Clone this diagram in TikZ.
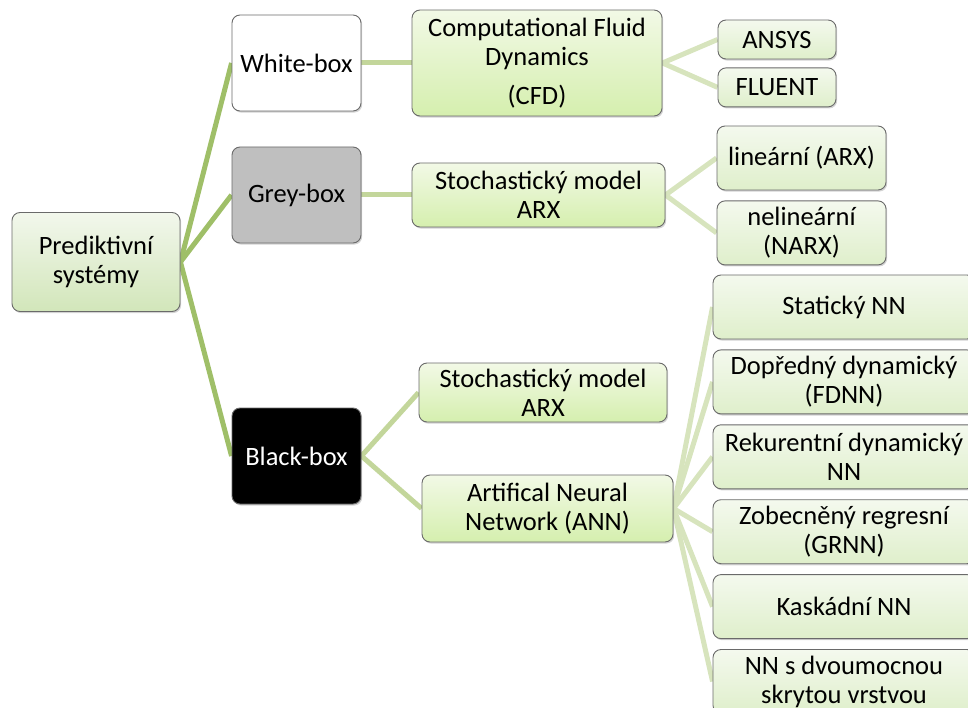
\documentclass[tikz,border=0pt]{standalone}
\usepackage{fontspec}
\setmainfont{Carlito}
\usepackage{tikz}
\usetikzlibrary{positioning,shadows,backgrounds}

\definecolor{linkA}{HTML}{9FBF68}
\definecolor{linkB}{HTML}{C3D69B}
\definecolor{linkC}{HTML}{D7E4BD}
\definecolor{boxline}{HTML}{6A6A6A}
\definecolor{rootTop}{HTML}{F2F7EC}
\definecolor{rootBot}{HTML}{D2E6BA}
\definecolor{midTop}{HTML}{F2F9E6}
\definecolor{midBot}{HTML}{D5EFAE}
\definecolor{leafTop}{HTML}{F4F9EE}
\definecolor{leafBot}{HTML}{DFEFCB}

\begin{document}
\begin{tikzpicture}[x=1pt, y=-1pt, node distance=10pt,
    every node/.style={font=\fontsize{26.5}{29}\selectfont},
    box/.style={draw=boxline, line width=0.9pt, rounded corners=8pt, align=center, inner sep=2pt,
        drop shadow={shadow xshift=1.2pt, shadow yshift=-1.6pt, opacity=0.35}},
    rootbox/.style={box, top color=rootTop, bottom color=rootBot},
    midbox/.style={box, top color=midTop, bottom color=midBot},
    leafbox/.style={box, top color=leafTop, bottom color=leafBot},
    kindbox/.style={box, minimum width=129pt, minimum height=96pt},
    nnbox/.style={leafbox, minimum width=262pt, minimum height=64pt},
    link/.style={line width=5pt},
]
\useasboundingbox (0,0) rectangle (968,708);

\node[rootbox, minimum width=168pt, minimum height=99pt] (root) at (96,262) {Prediktivní\\ systémy};

\node[kindbox, fill=white] (white) at (296.5,63) {White-box};
\node[kindbox, fill=black!25] (grey) at (296.5,195) {Grey-box};
\node[kindbox, fill=black, text=white] (black) at (296.5,456) {Black-box};

\node[midbox, minimum width=250pt, minimum height=106pt] (cfd) at (537,63) {Computational Fluid\\ Dynamics\\[10pt] (CFD)};
\node[leafbox, minimum width=118pt, minimum height=39pt] (ansys) at (777,39.5) {ANSYS};
\node[leafbox, minimum width=118pt, minimum height=39pt, below=8pt of ansys] (fluent) {FLUENT};

\node[midbox, minimum width=253pt, minimum height=64pt] (arxg) at (538.5,195) {Stochastický model\\ ARX};
\node[leafbox, minimum width=169pt, minimum height=64pt] (lin) at (801.5,158) {lineární (ARX)};
\node[leafbox, minimum width=169pt, minimum height=64pt, below=of lin] (nlin) {nelineární\\ (NARX)};

\node[midbox, minimum width=248pt, minimum height=59pt] (arxb) at (543,392.5) {Stochastický model\\ ARX};
\node[midbox, minimum width=251pt, minimum height=67pt] (ann) at (547.5,508.5) {Artifical Neural\\ Network (ANN)};

% neural network variants
\node[nnbox] (stat) at (844,307) {Statický NN};
\node[nnbox, below=of stat] (fdnn) {Dopředný dynamický\\ (FDNN)};
\node[nnbox, below=of fdnn] (rnn) {Rekurentní dynamický\\ NN};
\node[nnbox, below=of rnn] (grnn) {Zobecněný regresní\\ (GRNN)};
\node[nnbox, below=of grnn] (casc) {Kaskádní NN};
\node[nnbox, below=of casc] (hidden) {NN s dvoumocnou\\ skrytou vrstvou};

\begin{scope}[on background layer]
\draw[link, linkA] (root.east) -- (white.west);
\draw[link, linkA] (root.east) -- (grey.west);
\draw[link, linkA] (root.east) -- (black.west);
\draw[link, linkB] (white.east) -- (cfd.west);
\draw[link, linkB] (grey.east) -- (arxg.west);
\draw[link, linkB] (black.east) -- (arxb.west);
\draw[link, linkB] (black.east) -- (ann.west);
\draw[link, linkC] (cfd.east) -- (ansys.west);
\draw[link, linkC] (cfd.east) -- (fluent.west);
\draw[link, linkC] (arxg.east) -- (lin.west);
\draw[link, linkC] (arxg.east) -- (nlin.west);
\foreach \leaf in {stat,fdnn,rnn,grnn,casc,hidden}
    \draw[link, linkC] (ann.east) -- (\leaf.west);
\end{scope}
\end{tikzpicture}
\end{document}
